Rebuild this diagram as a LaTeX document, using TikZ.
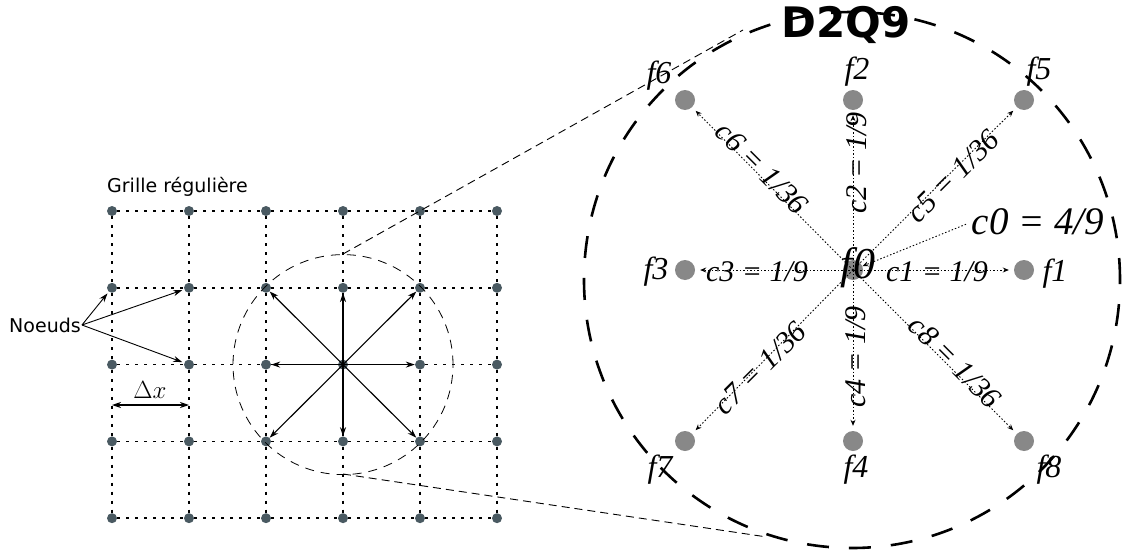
\documentclass[tikz,border=0pt]{standalone}
\usepackage{fontspec}
\setmainfont{Liberation Serif}
\newfontfamily\djs{DejaVu Sans}
\usetikzlibrary{arrows.meta}
\definecolor{gnode}{HTML}{4A5A62}
\definecolor{bdot}{HTML}{888888}
\begin{document}
\begin{tikzpicture}[x=1pt,y=-1pt,
  gnd/.style={circle,fill=gnode,inner sep=0pt,minimum size=10pt},
  gline/.style={line width=1.5pt,dash pattern=on 3pt off 6pt},
  bdt/.style={circle,fill=bdot,inner sep=0pt,minimum size=20pt},
  vec/.style={line width=1.1pt,-{Stealth[length=9pt,width=6pt]}},
  dvec/.style={line width=0.9pt,dash pattern=on 1.5pt off 2pt,-{Stealth[length=6pt,width=5pt]},shorten >=5pt},
  flab/.style={font=\fontsize{32}{34}\selectfont\itshape,inner sep=0pt},
  clab/.style={font=\fontsize{30}{32}\selectfont\itshape,inner sep=0pt},
  zoomln/.style={line width=0.9pt,dash pattern=on 8pt off 5pt},
  sans/.style={font=\djs\fontsize{19}{22}\selectfont,inner sep=1pt},
]
\useasboundingbox (0,0) rectangle (1127,551);
% ---------- grid ----------
\foreach \i in {0,...,5} \foreach \j in {0,...,4}
  \node[gnd] (g\i\j) at ({112+77*\i},{211+76.8*\j}) {};
\foreach \i in {0,...,4}{\pgfmathtruncatemacro\k{\i+1}
  \foreach \j in {0,...,4} \draw[gline] (g\i\j) -- (g\k\j);}
\foreach \i in {0,...,5}{\foreach \j in {0,...,3}{\pgfmathtruncatemacro\k{\j+1}
  \draw[gline] (g\i\j) -- (g\i\k);}}
\node[sans,anchor=west] (grille) at (106,187) {Grille régulière};
\node[sans] (noeuds) at (45,325) {Noeuds};
\foreach \t in {01,11,12} \draw[vec,line width=0.9pt,shorten >=2pt] (noeuds.east) -- (g\t);
\coordinate (dxa) at (112,405);
\coordinate (dxb) at (189,405);
\draw[line width=1.1pt,{Stealth[length=9pt,width=6pt]}-{Stealth[length=9pt,width=6pt]}] (dxa) -- (dxb);
\node[font=\fontsize{25}{27}\selectfont] (dxl) at (150,390) {$\Delta x$};
% small circle + vectors
\draw[line width=0.8pt,dash pattern=on 9pt off 7pt] (g32.center) circle[radius=110pt];
\foreach \t in {21,22,23,31,33,41,42,43} \draw[vec] (g32.center) -- (g\t);
% zoom lines
\coordinate (st) at (343,254);
\coordinate (sb) at (343,474);
\coordinate (bt) at (743,30);
\coordinate (bb) at (767,537);
\draw[zoomln] (st) -- (bt);
\draw[zoomln] (sb) -- (bb);
% ---------- big circle ----------
\coordinate (bigc) at (852,280);
\draw[line width=2.6pt,dash pattern=on 22pt off 20pt] (bigc) circle[radius=268pt];
\node[font=\djs\bfseries\fontsize{42}{44}\selectfont,inner sep=0pt] (title) at (846,25) {D2Q9};
\node[bdt] (F0) at (853,270) {};
\node[bdt] (F1) at (1024,270) {};
\node[bdt] (F2) at (853,100) {};
\node[bdt] (F3) at (685,270) {};
\node[bdt] (F4) at (853,441) {};
\node[bdt] (F5) at (1024,100) {};
\node[bdt] (F6) at (685,100) {};
\node[bdt] (F7) at (685,441) {};
\node[bdt] (F8) at (1024,441) {};
\foreach \t in {1,...,8} \draw[dvec] (F0.center) -- (F\t);
\node[flab] (l6) at (659,76) {f6};
\node[flab] (l2) at (857,72) {f2};
\node[flab] (l5) at (1039,72) {f5};
\node[flab] (l3) at (656,272) {f3};
\node[flab] (l1) at (1055,274) {f1};
\node[flab] (l7) at (660,470) {f7};
\node[flab] (l4) at (856,470) {f4};
\node[flab] (l8) at (1049,470) {f8};
\node[font=\fontsize{44}{46}\selectfont\itshape,inner sep=0pt] (l0) at (858,268) {f0};
\node[clab] (c1) at (937,272) {c1 = 1/9};
\node[clab] (c3) at (757,272) {c3 = 1/9};
\node[clab,rotate=90] (c2) at (857,163) {c2 = 1/9};
\node[clab,rotate=90] (c4) at (856,357) {c4 = 1/9};
\node[clab,rotate=45] (c5) at (953,176) {c5 = 1/36};
\node[clab,rotate=-45] (c6) at (762,168) {c6 = 1/36};
\node[clab,rotate=45] (c7) at (760,368) {c7 = 1/36};
\node[clab,rotate=-45] (c8) at (955,362) {c8 = 1/36};
\node[font=\fontsize{39}{41}\selectfont\itshape,inner sep=0pt] (c0) at (1038,222) {c0 = 4/9};
\draw[dvec,shorten >=0pt,shorten <=6pt] (c0.west) -- (F0);
\end{tikzpicture}
\end{document}
